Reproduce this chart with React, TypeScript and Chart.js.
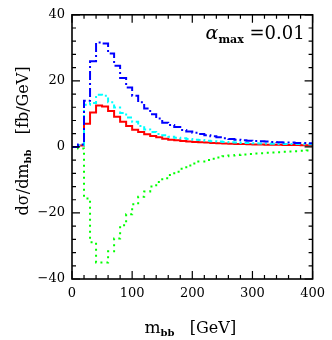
import React, { useEffect, useRef } from "react";
import { Chart, registerables } from "chart.js";

Chart.register(...registerables);

// Bin edges (GeV), 10 GeV bins from 0 to 400
const binEdges = [
  0, 10, 20, 30, 40, 50, 60, 70, 80, 90, 100, 110, 120, 130, 140, 150, 160, 170, 180, 190,
  200, 210, 220, 230, 240, 250, 260, 270, 280, 290, 300, 310, 320, 330, 340, 350, 360, 370, 380, 390, 400,
];

// dσ/dm_bb values per bin (fb/GeV)
const blueValues = [
  0, 0.7, 14.0, 25.9, 31.6, 31.3, 28.3, 24.6, 20.9, 18.0, 15.5, 13.5, 11.6, 9.9, 8.6, 7.3, 6.6, 6.0, 5.1, 4.7,
  4.3, 3.9, 3.5, 3.2, 2.9, 2.6, 2.4, 2.2, 2.0, 1.9, 1.8, 1.7, 1.6, 1.5, 1.4, 1.3, 1.3, 1.2, 1.2, 1.1,
];
const cyanValues = [
  0, 0.5, 12.8, 13.3, 15.8, 15.5, 13.5, 11.9, 10.3, 8.9, 7.6, 6.3, 5.3, 4.5, 3.9, 3.5, 3.1, 2.8, 2.6, 2.4,
  2.2, 2.1, 1.9, 1.7, 1.6, 1.5, 1.4, 1.3, 1.2, 1.15, 1.1, 1.05, 1.0, 0.95, 0.9, 0.9, 0.85, 0.85, 0.8, 0.8,
];
const redValues = [
  0, 0.4, 7.0, 10.4, 12.5, 12.2, 10.9, 9.1, 7.6, 6.3, 5.2, 4.5, 3.8, 3.3, 2.9, 2.5, 2.2, 2.0, 1.8, 1.6,
  1.5, 1.4, 1.3, 1.2, 1.1, 1.0, 0.95, 0.9, 0.85, 0.8, 0.75, 0.7, 0.68, 0.65, 0.62, 0.6, 0.58, 0.55, 0.52, 0.5,
];
const greenValues = [
  0, -0.5, -15.6, -28.9, -35.0, -35.0, -31.6, -27.7, -23.7, -20.4, -17.4, -15.1, -13.5, -12.0, -10.6, -9.5, -8.5, -7.5, -6.6, -5.6,
  -5.0, -4.4, -4.0, -3.6, -3.2, -2.8, -2.6, -2.45, -2.3, -2.15, -2.0, -1.9, -1.8, -1.7, -1.6, -1.5, -1.4, -1.3, -1.2, -1.1,
];

const xMin = 0;
const xMax = 400;
const yMin = -40;
const yMax = 40;
const xMajorStep = 100;
const xMinorStep = 20;
const yMajorStep = 20;
const yMinorStep = 4;
const annotationLabel = { symbol: "α", sub: "max", rest: " =0.01" };

const SERIF = "'DejaVu Serif', 'Liberation Serif', serif";

function toSteps(vals: number[]) {
  const pts = vals.map((v, i) => ({ x: binEdges[i], y: v }));
  pts.push({ x: binEdges[binEdges.length - 1], y: vals[vals.length - 1] });
  return pts;
}

function drawSegments(
  ctx: CanvasRenderingContext2D,
  segs: { t: string; font: string; dy: number }[],
  x: number,
  y: number,
  align: "center" | "right"
) {
  let total = 0;
  for (const s of segs) {
    ctx.font = s.font;
    total += ctx.measureText(s.t).width;
  }
  let cx = align === "center" ? x - total / 2 : x - total;
  ctx.textAlign = "left";
  ctx.textBaseline = "alphabetic";
  for (const s of segs) {
    ctx.font = s.font;
    ctx.fillText(s.t, cx, y + s.dy);
    cx += ctx.measureText(s.t).width;
  }
}

const framePlugin = {
  id: "frame",
  afterDraw(chart: any) {
    const { ctx, chartArea: a, scales } = chart;
    const xs = scales.x;
    const ys = scales.y;
    ctx.save();
    ctx.strokeStyle = "#000";
    ctx.fillStyle = "#000";
    ctx.lineWidth = 1.6;
    ctx.strokeRect(a.left, a.top, a.right - a.left, a.bottom - a.top);
    ctx.lineWidth = 1.2;
    ctx.beginPath();
    for (let v = xMin; v <= xMax; v += xMinorStep) {
      const px = xs.getPixelForValue(v);
      const len = v % xMajorStep === 0 ? 8 : 4;
      ctx.moveTo(px, a.bottom);
      ctx.lineTo(px, a.bottom - len);
      ctx.moveTo(px, a.top);
      ctx.lineTo(px, a.top + len);
    }
    for (let v = yMin; v <= yMax; v += yMinorStep) {
      const py = ys.getPixelForValue(v);
      const len = v % yMajorStep === 0 ? 8 : 4;
      ctx.moveTo(a.left, py);
      ctx.lineTo(a.left + len, py);
      ctx.moveTo(a.right, py);
      ctx.lineTo(a.right - len, py);
    }
    ctx.stroke();

    // x title
    const cxp = (a.left + a.right) / 2;
    drawSegments(
      ctx,
      [
        { t: "m", font: `17px ${SERIF}`, dy: 0 },
        { t: "bb", font: `bold 10px ${SERIF}`, dy: 3 },
        { t: "   [GeV]", font: `16px ${SERIF}`, dy: 0 },
      ],
      cxp - 2,
      333,
      "center"
    );

    // y title (rotated)
    ctx.save();
    ctx.translate(28, (a.top + a.bottom) / 2 - 6);
    ctx.rotate(-Math.PI / 2);
    drawSegments(
      ctx,
      [
        { t: "dσ/dm", font: `16px ${SERIF}`, dy: 0 },
        { t: "bb", font: `bold 10px ${SERIF}`, dy: 3 },
        { t: "   [fb/GeV]", font: `16px ${SERIF}`, dy: 0 },
      ],
      0,
      0,
      "center"
    );
    ctx.restore();

    // annotation
    drawSegments(
      ctx,
      [
        { t: annotationLabel.symbol, font: `italic 19px ${SERIF}`, dy: 0 },
        { t: annotationLabel.sub, font: `bold 11px ${SERIF}`, dy: 4 },
        { t: annotationLabel.rest, font: `18px ${SERIF}`, dy: 0 },
      ],
      a.right - 8,
      39,
      "right"
    );
    ctx.restore();
  },
};

export default function App() {
  const canvasRef = useRef<HTMLCanvasElement | null>(null);

  useEffect(() => {
    if (!canvasRef.current) return;
    const mk = (label: string, vals: number[], color: string, dash: number[], order: number) => ({
      label,
      data: toSteps(vals),
      borderColor: color,
      backgroundColor: color,
      borderWidth: 2,
      borderDash: dash,
      pointRadius: 0,
      stepped: "before" as const,
      fill: false,
      order,
    });
    const chart = new Chart(canvasRef.current, {
      type: "line",
      data: {
        datasets: [
          mk("green", greenValues, "#00ff00", [2, 4], 4),
          mk("red", redValues, "#ff0000", [], 3),
          mk("cyan", cyanValues, "#00ffff", [5, 3, 2, 3], 2),
          mk("blue", blueValues, "#0000ff", [9, 3, 2, 3], 1),
        ],
      },
      plugins: [framePlugin],
      options: {
        animation: false,
        responsive: false,
        events: [],
        layout: { padding: { left: 0, right: 16, top: 9, bottom: 0 } },
        plugins: { legend: { display: false }, tooltip: { enabled: false } },
        scales: {
          x: {
            type: "linear",
            min: xMin,
            max: xMax,
            grid: { display: false, drawTicks: false },
            border: { display: false },
            ticks: {
              stepSize: xMajorStep,
              autoSkip: false,
              maxRotation: 0,
              padding: 7,
              color: "#000",
              font: { family: SERIF, size: 13 },
            },
            afterFit: (s: any) => {
              s.height = 61;
            },
          },
          y: {
            type: "linear",
            min: yMin,
            max: yMax,
            grid: { display: false, drawTicks: false },
            border: { display: false },
            ticks: {
              stepSize: yMajorStep,
              autoSkip: false,
              padding: 7,
              color: "#000",
              font: { family: SERIF, size: 13 },
              callback: (v: any) => String(v).replace("-", "\u2212"),
            },
            afterFit: (s: any) => {
              s.width = 72;
            },
          },
        },
      },
    });
    return () => chart.destroy();
  }, []);

  return (
    <div style={{ position: "absolute", left: 0, top: 0, width: 332, height: 340, background: "#fff" }}>
      <canvas ref={canvasRef} width={332} height={340} style={{ display: "block" }} />
    </div>
  );
}
